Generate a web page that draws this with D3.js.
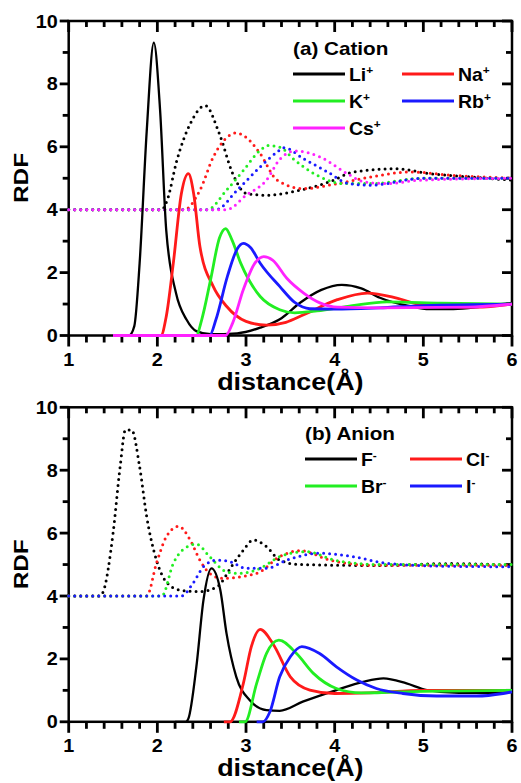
<!DOCTYPE html>
<html>
<head>
<meta charset="utf-8">
<script src="https://cdn.jsdelivr.net/npm/d3@7"></script>
<style>
  body { margin: 0; background: #fff; }
  text { font-family: "Liberation Sans", Arial, sans-serif; font-weight: bold; }
</style>
</head>
<body>
<div id="chart"></div>
<script>
// ---- data ----
// panel (a) cations: solid = first curve, dotted = second curve shifted by +4
const liSolid = [[1.5,0],[1.68,0],[1.74,0.3],[1.8,2.3],[1.88,6.5],[1.96,9.31],[2.03,7.2],[2.1,3.35],[2.21,1.35],[2.33,0.5],[2.44,0.14],[2.6,0.04],[2.9,0.07],[3.16,0.25],[3.4,0.55],[3.61,1.04],[3.85,1.45],[4.08,1.61],[4.3,1.5],[4.51,1.2],[4.85,0.93],[5.07,0.84],[5.3,0.84],[5.53,0.88],[5.8,0.97],[6,1.04]];
const naSolid = [[1.5,0],[2.04,0],[2.1,0.6],[2.18,2.3],[2.27,4.5],[2.35,5.15],[2.41,4.5],[2.48,2.83],[2.63,1.56],[2.78,0.93],[3.0,0.45],[3.23,0.33],[3.45,0.42],[3.65,0.66],[4.03,1.14],[4.37,1.35],[4.7,1.19],[4.97,0.98],[5.3,0.92],[5.6,0.9],[6,1.0]];
const kSolid = [[1.5,0],[2.44,0],[2.5,0.5],[2.6,1.77],[2.7,3.1],[2.77,3.4],[2.84,3.05],[2.94,2.3],[3.16,1.24],[3.38,0.82],[3.55,0.72],[3.8,0.78],[4.2,0.95],[4.59,1.07],[5.2,1.03],[6,1.0]];
const rbSolid = [[1.5,0],[2.59,0],[2.66,0.5],[2.79,1.88],[2.9,2.75],[2.97,2.93],[3.05,2.8],[3.16,2.3],[3.38,1.56],[3.55,1.05],[3.72,0.85],[4.0,0.84],[4.5,0.88],[5.0,0.95],[6,1.0]];
const csSolid = [[1.5,0],[2.77,0],[2.85,0.4],[2.97,1.46],[3.1,2.3],[3.2,2.51],[3.3,2.4],[3.46,1.82],[3.65,1.35],[3.84,1.03],[4.03,0.9],[4.5,0.88],[5.5,0.9],[6,1.0]];

const liDot = [[1,4],[2.05,4],[2.11,4.3],[2.22,5.57],[2.37,6.73],[2.54,7.31],[2.7,6.41],[2.85,5.15],[3.0,4.52],[3.23,4.46],[3.61,4.62],[3.99,4.94],[4.21,5.2],[4.7,5.3],[5.07,5.15],[5.53,5.04],[6,4.94]];
const naDot = [[1,4],[2.3,4],[2.48,4.62],[2.63,5.67],[2.75,6.2],[2.89,6.44],[3.0,6.3],[3.16,5.78],[3.35,4.94],[3.65,4.67],[4.03,4.83],[4.41,5.04],[4.85,5.2],[5.34,5.09],[6,5.0]];
const kDot = [[1,4],[2.56,4],[2.78,4.62],[2.97,5.25],[3.16,5.89],[3.25,6.04],[3.38,5.99],[3.54,5.6],[3.65,5.36],[3.84,5.04],[4.1,4.83],[4.41,4.83],[5.0,5.0],[6,5.0]];
const rbDot = [[1,4],[2.66,4],[2.9,4.62],[3.16,5.36],[3.35,5.83],[3.43,5.97],[3.65,5.62],[3.92,5.2],[4.16,4.83],[4.41,4.78],[5.0,5.0],[6,5.0]];
const csDot = [[1,4],[2.78,4],[3.0,4.46],[3.23,4.94],[3.38,5.6],[3.55,5.87],[3.84,5.67],[4.14,5.15],[4.33,4.89],[4.59,4.83],[4.97,4.94],[6,5.0]];

// panel (b) anions
const fSolid = [[2.2,0],[2.32,0],[2.35,0.1],[2.44,1.75],[2.52,3.87],[2.61,4.88],[2.71,4.19],[2.78,2.81],[2.89,1.43],[3.04,0.69],[3.23,0.37],[3.38,0.35],[3.64,0.64],[4.02,1.01],[4.32,1.27],[4.55,1.38],[4.81,1.22],[5.04,1.01],[5.4,0.92],[5.8,0.92],[6,0.95]];
const clSolid = [[2.75,0],[2.82,0],[2.97,1.22],[3.06,2.39],[3.16,2.94],[3.31,2.45],[3.5,1.43],[3.72,1.01],[4.0,0.9],[4.4,0.92],[5.0,1.0],[6,1.0]];
const brSolid = [[2.92,0],[2.99,0],[3.12,1.22],[3.23,2.17],[3.37,2.6],[3.57,2.17],[3.76,1.54],[4.02,1.06],[4.3,0.92],[5.0,0.97],[6,1.0]];
const iSolid = [[3.12,0],[3.19,0],[3.27,0.32],[3.38,1.43],[3.5,2.07],[3.63,2.39],[3.83,2.17],[4.02,1.75],[4.25,1.33],[4.47,1.06],[4.77,0.9],[5.15,0.82],[5.6,0.82],[5.9,0.9],[6,0.95]];

const fDot = [[1,4],[1.35,4],[1.39,4.14],[1.5,5.99],[1.58,8.11],[1.64,9.28],[1.71,9.28],[1.8,8.11],[1.88,6.52],[1.99,5.14],[2.1,4.45],[2.25,4.19],[2.48,4.14],[2.67,4.29],[2.86,5.04],[2.97,5.46],[3.08,5.78],[3.23,5.57],[3.38,5.14],[3.6,5.0],[4.5,4.97],[5.3,5.03],[6,4.98]];
const clDot = [[1,4],[1.88,4],[1.99,5.04],[2.1,5.88],[2.24,6.22],[2.37,5.78],[2.48,5.14],[2.59,4.72],[2.74,4.56],[2.93,4.61],[3.16,4.77],[3.35,5.2],[3.61,5.44],[3.95,5.14],[4.4,4.98],[6,4.98]];
const brDot = [[1,4],[2.05,4],[2.18,5.04],[2.3,5.5],[2.44,5.65],[2.59,5.25],[2.78,4.77],[2.93,4.72],[3.16,4.88],[3.38,5.25],[3.68,5.41],[4.0,5.14],[4.5,5.0],[6,5.0]];
const iDot = [[1,4],[2.27,4],[2.4,4.4],[2.52,4.93],[2.67,5.14],[2.82,5.09],[3.0,4.88],[3.23,4.88],[3.46,5.14],[3.83,5.36],[4.21,5.25],[4.59,5.04],[5.2,4.95],[6,4.93]];

const cationNames = ["Li", "Na", "K", "Rb", "Cs"];
const anionNames = ["F", "Cl", "Br", "I"];
const cationColors = ["#000000", "#ff1a1a", "#22ee22", "#1a1aff", "#ff22ff"];
const anionColors = ["#000000", "#ff1a1a", "#22ee22", "#1a1aff"];
const xTicks = [1, 2, 3, 4, 5, 6];
const yTicks = [0, 2, 4, 6, 8, 10];

const cations = cationNames.map((n, i) => ({
  name: n, color: cationColors[i],
  solid: [liSolid, naSolid, kSolid, rbSolid, csSolid][i],
  dot: [liDot, naDot, kDot, rbDot, csDot][i]
}));
const anions = anionNames.map((n, i) => ({
  name: n, color: anionColors[i],
  solid: [fSolid, clSolid, brSolid, iSolid][i],
  dot: [fDot, clDot, brDot, iDot][i]
}));

const width = 521, height = 783;
const svg = d3.select("#chart").append("svg")
  .attr("width", width).attr("height", height);

const x = d3.scaleLinear().domain([1, 6]).range([68.7, 512]);
const minorX = d3.range(1.2, 6, 0.2).filter(v => Math.abs(v - Math.round(v)) > 0.01);
const minorY = [1, 3, 5, 7, 9];

// the original font is a bit wider than Liberation Sans, so stretch text sideways
function label(g, px, py, str, size, anchor, sx, rot) {
  return g.append("text")
    .attr("transform", `translate(${px},${py})${rot ? " rotate(" + rot + ")" : ""} scale(${sx},1)`)
    .attr("text-anchor", anchor)
    .style("font-size", size + "px")
    .text(str);
}

function drawPanel(y0, series, title, sign, legendX, legendY, colGap) {
  const y = d3.scaleLinear().domain([0, 10]).range([y0 + 314.5, y0]);
  const g = svg.append("g");
  const yBot = y(0), xL = x(1), xR = x(6);

  // frame
  g.append("rect")
    .attr("x", xL).attr("y", y0)
    .attr("width", xR - xL).attr("height", yBot - y0)
    .attr("fill", "none").attr("stroke", "#000").attr("stroke-width", 2.5);

  // ticks: bottom/left outward, top/right inward
  const tick = (x1, y1, x2, y2) => g.append("line")
    .attr("x1", x1).attr("y1", y1).attr("x2", x2).attr("y2", y2)
    .attr("stroke", "#000").attr("stroke-width", 2.8);
  xTicks.forEach(v => { tick(x(v), yBot, x(v), yBot + 11); tick(x(v), y0, x(v), y0 + 11); });
  minorX.forEach(v => { tick(x(v), yBot, x(v), yBot + 7); tick(x(v), y0, x(v), y0 + 6); });
  yTicks.forEach(v => { tick(xL, y(v), xL - 9, y(v)); tick(xR, y(v), xR - 10, y(v)); });
  minorY.forEach(v => { tick(xL, y(v), xL - 6, y(v)); tick(xR, y(v), xR - 6, y(v)); });

  xTicks.forEach(v => label(g, x(v), yBot + 30, v, 18, "middle", 1.1));
  yTicks.forEach(v => label(g, xL - 11, y(v) + 6.5, v, 18, "end", 1.1));

  const line = d3.line()
    .x(d => x(d[0]))
    .y(d => y(d[1]))
    .curve(d3.curveMonotoneX);

  // dotted curves first, then solid
  series.forEach(s => {
    g.append("path")
      .attr("d", line(s.dot))
      .attr("fill", "none")
      .attr("stroke", s.color)
      .attr("stroke-width", 3)
      .attr("stroke-linecap", "round")
      .attr("stroke-dasharray", "0,6");
  });
  series.forEach(s => {
    g.append("path")
      .attr("d", line(s.solid))
      .attr("fill", "none")
      .attr("stroke", s.color)
      .attr("stroke-width", s.color === "#000000" ? 2.3 : 2.8);
  });

  // axis titles
  label(g, (xL + xR) / 2, yBot + 54, "distance(Å)", 23, "middle", 1.17);
  label(g, 28, y0 + 157, "RDF", 20, "middle", 1.22, -90);

  // legend
  label(g, legendX, legendY, title, 18, "start", 1.15);
  series.forEach((s, i) => {
    const col = i % 2, row = Math.floor(i / 2);
    const lx = legendX + col * colGap;
    const ly = legendY + 19 + row * 27;
    g.append("line")
      .attr("x1", lx).attr("x2", lx + 52)
      .attr("y1", ly).attr("y2", ly)
      .attr("stroke", s.color).attr("stroke-width", 3);
    const t = label(g, lx + 56, ly + 7, null, 18, "start", 1.08);
    t.append("tspan").text(s.name);
    t.append("tspan").attr("dy", -7).style("font-size", "11px").text(sign);
  });
}

drawPanel(21, cations, "(a) Cation", "+", 293, 55, 109);
drawPanel(407.3, anions, "(b) Anion", "-", 305, 440, 105);
</script>
</body>
</html>
